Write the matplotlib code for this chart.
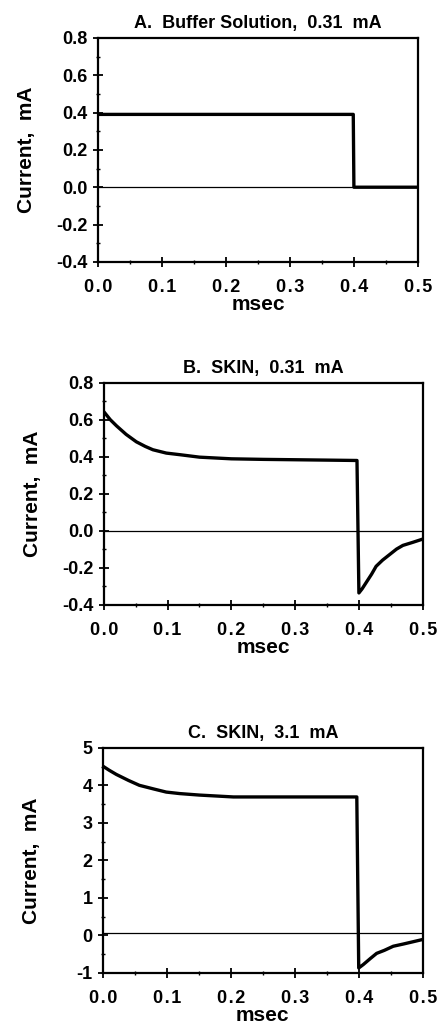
#Current vs time traces for buffer solution and skin
import matplotlib
matplotlib.use("Agg")
from matplotlib import pyplot as plt
from matplotlib.ticker import MultipleLocator

plt.rcParams['font.family'] = ['Liberation Sans', 'DejaVu Sans']
plt.rcParams['font.weight'] = 'bold'

##panel A, buffer solution 0.31 mA (square pulse)##
t_a = [0.0, 0.399, 0.400, 0.5]
i_a = [0.39, 0.39, 0.0, 0.0]

##panel B, skin 0.31 mA##
t_b = [0.0, 0.01, 0.02, 0.035, 0.051, 0.065, 0.077, 0.098, 0.12, 0.15, 0.2, 0.25, 0.3, 0.35, 0.397,
       0.400, 0.405, 0.411, 0.42, 0.427, 0.437, 0.448, 0.459, 0.469, 0.484, 0.5]
i_b = [0.643, 0.60, 0.566, 0.52, 0.48, 0.455, 0.437, 0.419, 0.41, 0.397, 0.388, 0.385, 0.383, 0.381, 0.379,
       -0.337, -0.315, -0.283, -0.235, -0.193, -0.16, -0.13, -0.10, -0.08, -0.064, -0.046]

##panel C, skin 3.1 mA##
t_c = [0.0, 0.01, 0.021, 0.04, 0.057, 0.08, 0.099, 0.12, 0.151, 0.204, 0.25, 0.3, 0.35, 0.397,
       0.400, 0.407, 0.418, 0.428, 0.44, 0.454, 0.47, 0.485, 0.5]
i_c = [4.51, 4.40, 4.29, 4.13, 4.0, 3.90, 3.82, 3.78, 3.74, 3.69, 3.69, 3.69, 3.69, 3.69,
       -0.87, -0.78, -0.62, -0.48, -0.40, -0.29, -0.23, -0.17, -0.11]

titles = ["A.  Buffer Solution,  0.31  mA", "B.  SKIN,  0.31  mA", "C.  SKIN,  3.1  mA"]
baselines = [0.0, 0.0, 0.075]
ylims = [(-0.4, 0.8), (-0.4, 0.8), (-1, 5)]
ymajor = [0.2, 0.2, 1]
yminor = [0.1, 0.1, 0.5]
ytick_fmt = ["%.1f", "%.1f", "%d"]
xticks = [0.0, 0.1, 0.2, 0.3, 0.4, 0.5]

#axes boxes in figure fractions [left, bottom, width, height]
boxes = [[0.224, 0.744, 0.730, 0.219],
         [0.237, 0.409, 0.728, 0.217],
         [0.235, 0.049, 0.730, 0.220]]

fig = plt.figure(figsize=(4.38, 10.23), dpi=100)
data = [(t_a, i_a), (t_b, i_b), (t_c, i_c)]

for k in range(3):
    ax = fig.add_axes(boxes[k])
    t, i = data[k]
    ax.plot(t, i, color='black', lw=2.4, solid_joinstyle='round')
    ax.axhline(baselines[k], color='black', lw=0.9)
    ax.set_xlim(0, 0.5)
    ax.set_ylim(*ylims[k])
    ax.set_xticks(xticks)
    #the x tick labels are letter-spaced in the original
    ax.set_xticklabels(["\u200a".join("%.1f" % x) for x in xticks], fontsize=13, fontweight='bold')
    ax.xaxis.set_minor_locator(MultipleLocator(0.05))
    ax.yaxis.set_major_locator(MultipleLocator(ymajor[k]))
    ax.yaxis.set_minor_locator(MultipleLocator(yminor[k]))
    ax.set_yticks(ax.get_yticks())
    ax.set_yticklabels([ytick_fmt[k] % v for v in ax.get_yticks()], fontsize=13, fontweight='bold')
    ax.set_ylim(*ylims[k])
    ax.tick_params(which='major', direction='inout', length=7, width=1.3)
    ax.tick_params(axis='x', which='major', pad=9)
    ax.tick_params(axis='y', which='major', pad=4)
    ax.tick_params(which='minor', direction='inout', length=3.5, width=1.0)
    for s in ax.spines.values():
        s.set_linewidth(1.6)
    ax.set_title(titles[k], fontsize=13, fontweight='bold', pad=7)
    ax.set_xlabel("msec", fontsize=15, fontweight='bold', labelpad=-1)
    ax.set_ylabel("Current,  mA", fontsize=15, fontweight='bold')
    ax.yaxis.set_label_coords(-0.195, 0.5)

plt.savefig("out.png", dpi=100)
